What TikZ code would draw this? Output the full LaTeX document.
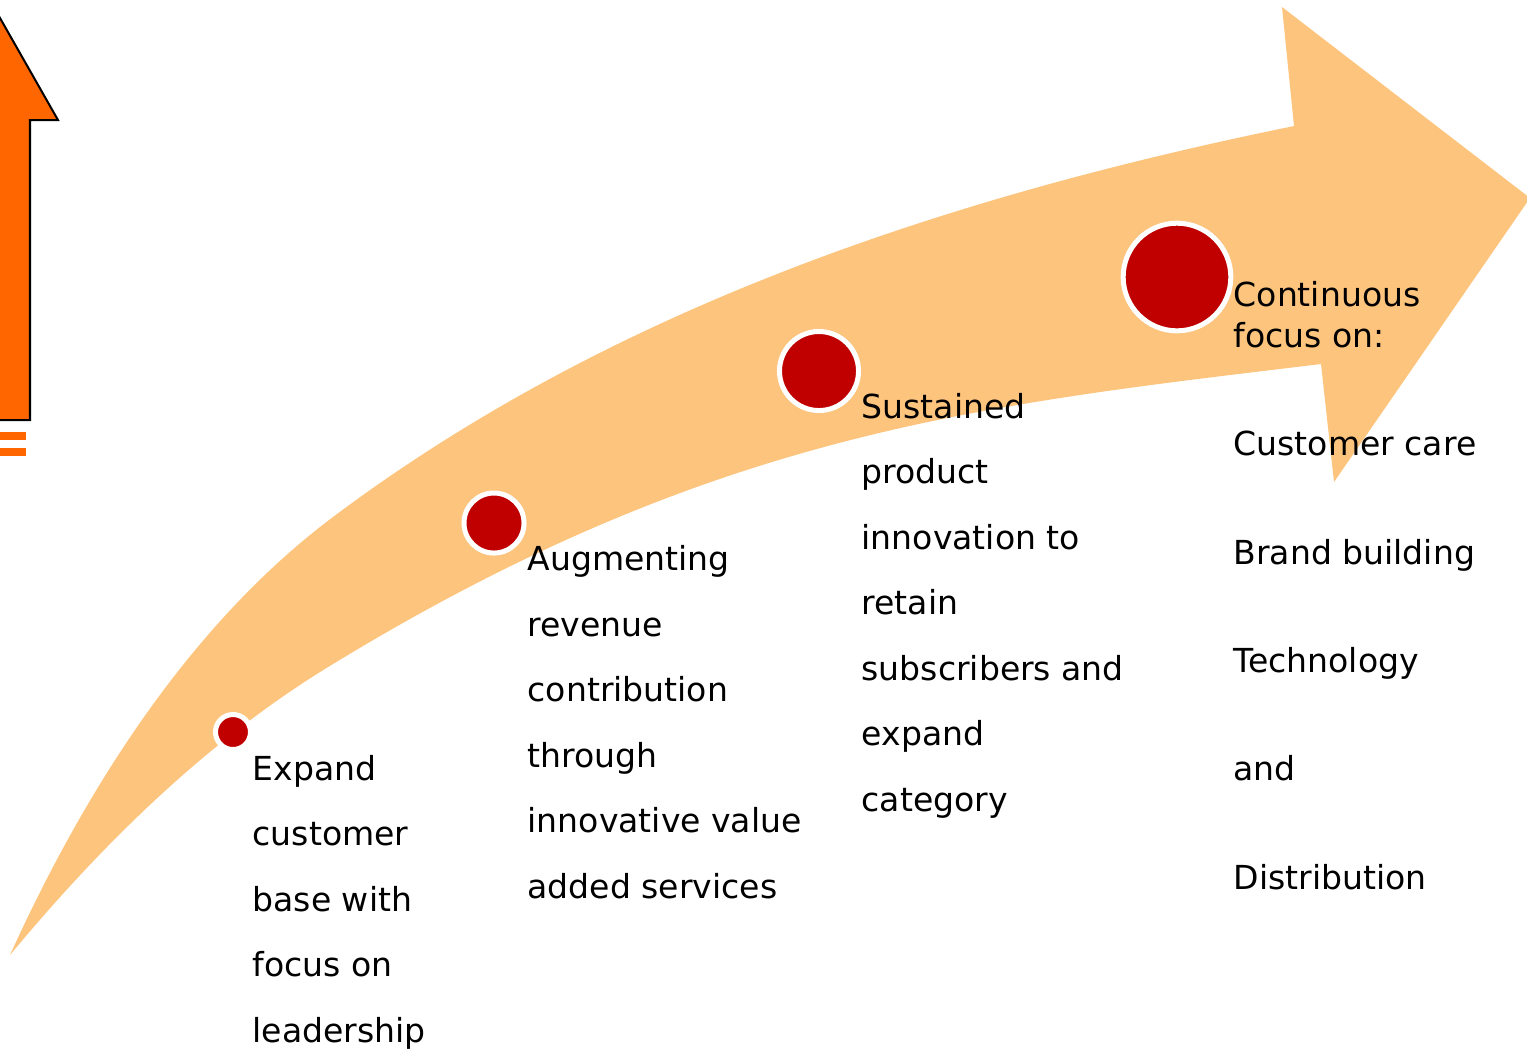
\documentclass[tikz,border=0pt]{standalone}
\usepackage{fontspec}
\setmainfont{DejaVu Sans}
\usetikzlibrary{positioning}
\definecolor{bandorange}{HTML}{FDC47D}
\definecolor{dotred}{HTML}{C00000}
\definecolor{uporange}{HTML}{FF6600}

\begin{document}
\begin{tikzpicture}[
    x=0.01cm, y=-0.01cm,
    dot/.style={circle, draw=white, fill=dotred, line width=0.05cm, inner sep=0pt},
    stage/.style={anchor=base west, align=left, inner sep=0pt, font=\fontsize{9.4}{18.6}\selectfont}
]
    \useasboundingbox (0,0) rectangle (1527,1050);
    \clip (0,0) rectangle (1527,1050);

    % up arrow, cut at the left edge
    \filldraw[fill=uporange, draw=black, line width=0.02cm]
        (-30,420) -- (30,420) -- (30,120) -- (58,120) -- (0,18) -- (-58,120) -- (-30,120) -- cycle;
    \fill[uporange] (0,432) rectangle (26,440);
    \fill[uporange] (0,448) rectangle (26,456);

    % curved arrow
    \fill[bandorange] (10,955)
        .. controls (84.5,791) and (189,625) .. (333,517)
        .. controls (613,307) and (951,196) .. (1294,126)
        -- (1282,7) -- (1530,198) -- (1334,482) -- (1321,364)
        .. controls (983,405) and (717,430) .. (333,664)
        .. controls (209,739) and (103,843) .. (10,955) -- cycle;

    % milestones
    \node[dot, minimum size=0.35cm] (c1) at (233,732) {};
    \node[dot, minimum size=0.60cm] (c2) at (494,523) {};
    \node[dot, minimum size=0.79cm] (c3) at (819,371) {};
    \node[dot, minimum size=1.076cm] (c4) at (1177,277) {};

    % texts, placed at the baseline of their last line
    \node[stage] (t1) at (252,1042) {Expand\\customer\\base with\\focus on\\leadership};
    \node[stage] (t2) at (527,898) {Augmenting\\revenue\\contribution\\through\\innovative value\\added services};
    \node[stage] (t3) at (861,811) {Sustained\\product\\innovation to\\retain\\subscribers and\\expand\\category};
    \node[stage, font=\fontsize{9.4}{11.4}\selectfont] (t4) at (1233,347) {Continuous\\focus on:};
    \node[stage, font=\fontsize{9.4}{30.8}\selectfont] (t4list) at (1233,889) {Customer care\\Brand building\\Technology\\and\\Distribution};
\end{tikzpicture}
\end{document}
